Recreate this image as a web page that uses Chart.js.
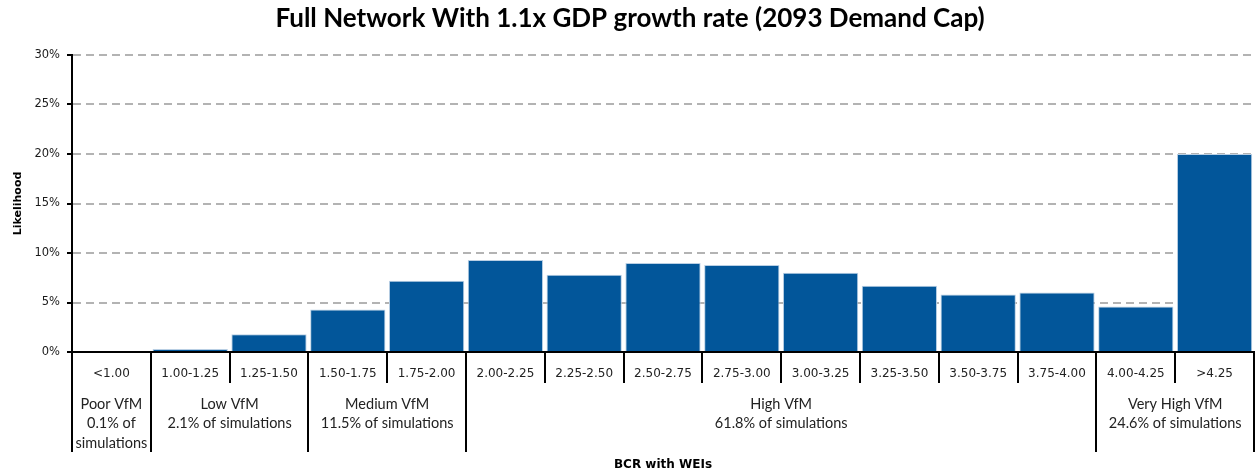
<!DOCTYPE html>
<html>
<head>
<meta charset="utf-8">
<script src="https://cdn.jsdelivr.net/npm/chart.js@4/dist/chart.umd.min.js"></script>
<style>
  html, body { margin: 0; padding: 0; background: #ffffff; }
  #wrap { width: 1255px; height: 475px; }
</style>
</head>
<body>
<div id="wrap"><canvas id="c" width="1255" height="475"></canvas></div>
<script>
// ---- data ----
const categories = ["<1.00","1.00-1.25","1.25-1.50","1.50-1.75","1.75-2.00","2.00-2.25","2.25-2.50","2.50-2.75","2.75-3.00","3.00-3.25","3.25-3.50","3.50-3.75","3.75-4.00","4.00-4.25",">4.25"];
const likelihood = [0.000, 0.003, 0.018, 0.043, 0.072, 0.093, 0.078, 0.090, 0.088, 0.080, 0.067, 0.058, 0.060, 0.046, 0.200];
const groupStarts = [0, 1, 3, 5, 13];
const groupEnds = [0, 2, 4, 12, 14];
const groupLabels = [
  ["Poor VfM", "0.1% of", "simulations"],
  ["Low VfM", "2.1% of simulations"],
  ["Medium VfM", "11.5% of simulations"],
  ["High VfM", "61.8% of simulations"],
  ["Very High VfM", "24.6% of simulations"]
];
const yTicks = [0, 0.05, 0.10, 0.15, 0.20, 0.25, 0.30];
const titleText = "Full Network With 1.1x GDP growth rate (2093 Demand Cap)";
const xTitle = "BCR with WEIs";
const yTitle = "Likelihood";

const tablePlugin = {
  id: 'tablePlugin',
  afterDraw(chart) {
    const ctx = chart.ctx;
    const x = chart.scales.x;
    const y0 = chart.chartArea.bottom;
    const n = categories.length;
    const half = (x.getPixelForValue(1) - x.getPixelForValue(0)) / 2;
    const boundary = i => i < n ? x.getPixelForValue(i) - half : x.getPixelForValue(n - 1) + half;
    ctx.save();
    ctx.strokeStyle = '#000';
    ctx.lineWidth = 2;
    for (let i = 0; i <= n; i++) {
      const isGroup = groupStarts.includes(i) || i === n;
      const bx = Math.round(boundary(i));
      ctx.beginPath();
      ctx.moveTo(bx, y0);
      ctx.lineTo(bx, y0 + (isGroup ? 100 : 31));
      ctx.stroke();
    }
    ctx.fillStyle = '#222';
    ctx.textAlign = 'center';
    ctx.textBaseline = 'middle';
    ctx.font = '12px "DejaVu Sans"';
    for (let i = 0; i < n; i++) {
      ctx.fillText(categories[i], x.getPixelForValue(i), y0 + 22);
    }
    ctx.font = '14.5px Lato';
    for (let g = 0; g < groupStarts.length; g++) {
      const cx = (boundary(groupStarts[g]) + boundary(groupEnds[g] + 1)) / 2;
      groupLabels[g].forEach((t, k) => {
        ctx.fillText(t, cx, y0 + 52 + k * 19.5);
      });
    }
    ctx.restore();
  }
};

new Chart(document.getElementById('c'), {
  type: 'bar',
  data: {
    labels: categories,
    datasets: [{
      data: likelihood,
      backgroundColor: '#02569A',
      borderColor: '#B9CFE4',
      borderWidth: 1,
      barPercentage: 0.955,
      categoryPercentage: 1.0
    }]
  },
  options: {
    responsive: false,
    animation: false,
    devicePixelRatio: 1,
    layout: { padding: { left: 6, right: 1, top: 0, bottom: 0 } },
    plugins: {
      legend: { display: false },
      tooltip: { enabled: false },
      title: {
        display: true,
        text: titleText,
        color: '#000',
        font: { family: 'Lato', size: 26, weight: 'bold', lineHeight: 1.2 },
        padding: { top: 3, bottom: 20.8 }
      }
    },
    scales: {
      x: {
        type: 'category',
        grid: { display: false },
        border: { color: '#000', width: 2 },
        ticks: { display: false },
        title: {
          display: true,
          text: xTitle,
          color: '#000',
          font: { family: 'DejaVu Sans', size: 12, weight: 'bold' },
          padding: { top: 0, bottom: 3 }
        },
        afterFit(scale) { scale.height = 123; }
      },
      y: {
        min: 0,
        max: 0.30,
        afterBuildTicks(scale) { scale.ticks = yTicks.map(v => ({ value: v })); },
        ticks: {
          color: '#1a1a1a',
          font: { family: 'DejaVu Sans', size: 11.5 },
          padding: 7,
          callback: v => Math.round(v * 100) + '%'
        },
        grid: {
          color: ctx => (ctx.tick && ctx.tick.value === 0) ? 'rgba(0,0,0,0)' : '#B3B3B3',
          lineWidth: 2,
          tickBorderDash: [],
          tickColor: '#000',
          tickLength: 5,
          tickWidth: 2
        },
        border: { color: '#000', width: 2, dash: [8, 5] },
        title: {
          display: true,
          text: yTitle,
          color: '#000',
          font: { family: 'DejaVu Sans', size: 11, weight: 'bold' },
          padding: { top: 6, bottom: 0 }
        },
        afterFit(scale) { scale.width = 66; }
      }
    }
  },
  plugins: [tablePlugin]
});
</script>
</body>
</html>
